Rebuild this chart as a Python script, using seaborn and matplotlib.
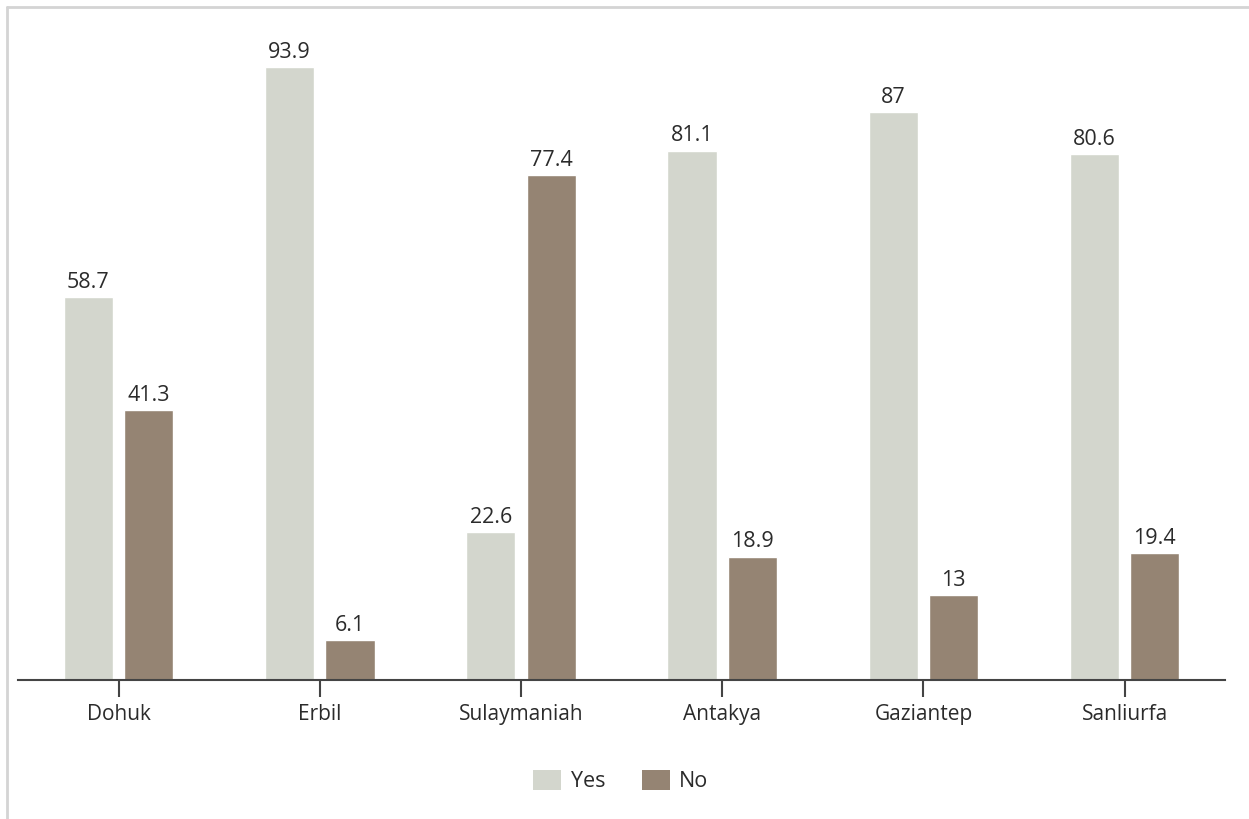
import pandas as pd
import matplotlib
matplotlib.use('Agg')
import matplotlib.pyplot as plt
import seaborn as sns
from matplotlib.patches import Patch
from matplotlib.lines import Line2D

cities = ['Dohuk', 'Erbil', 'Sulaymaniah', 'Antakya', 'Gaziantep', 'Sanliurfa']
yes_vals = [58.7, 93.9, 22.6, 81.1, 87, 80.6]
no_vals = [41.3, 6.1, 77.4, 18.9, 13, 19.4]
answers = ['Yes', 'No']
colors = ['#d3d6cd', '#958473']

df = pd.DataFrame({
    'City': cities * 2,
    'Answer': ['Yes'] * len(cities) + ['No'] * len(cities),
    'Value': yes_vals + no_vals,
})

sns.set_theme(style='white')
plt.rcParams['font.family'] = ['Open Sans', 'DejaVu Sans']
text_color = '#2b2b2b'

fig = plt.figure(figsize=(12.49, 8.19), dpi=100)
ax = fig.add_axes([0.0144, 0.1697, 0.9666, 0.797])

sns.barplot(data=df, x='City', y='Value', hue='Answer', hue_order=answers,
            palette=colors, width=0.6, gap=0.185, legend=False, ax=ax,
            saturation=1)

for cont in ax.containers:
    labels = [f'{v:g}' for v in cont.datavalues]
    ax.bar_label(cont, labels=labels, padding=3, fontsize=15.5, color=text_color)

ax.set_xlim(-0.5, 5.5)
ax.set_ylim(0, 100)
ax.set_xlabel('')
ax.set_ylabel('')
ax.set_yticks([])
for s in ['top', 'right', 'left']:
    ax.spines[s].set_visible(False)
ax.spines['bottom'].set_color('#444444')
ax.spines['bottom'].set_linewidth(1.5)
ax.tick_params(axis='x', length=12, width=1.5, color='#444444',
               labelsize=15, labelcolor=text_color, pad=5, bottom=True)

handles = [Patch(facecolor=c, edgecolor='none') for c in colors]
fig.legend(handles, answers, loc='center', bbox_to_anchor=(0.497, 0.046),
           ncol=2, frameon=False, fontsize=15.5, handlelength=1.3,
           handleheight=1.0, handletextpad=0.45, columnspacing=1.7,
           labelcolor=text_color)

# partial frame of the original screenshot
fig.add_artist(Line2D([0.0056, 1.0], [0.9915, 0.9915], transform=fig.transFigure,
                      color='#d4d4d4', lw=2))
fig.add_artist(Line2D([0.0056, 0.0056], [0.0, 0.9915], transform=fig.transFigure,
                      color='#d4d4d4', lw=2))

fig.savefig('out.png', dpi=100)
